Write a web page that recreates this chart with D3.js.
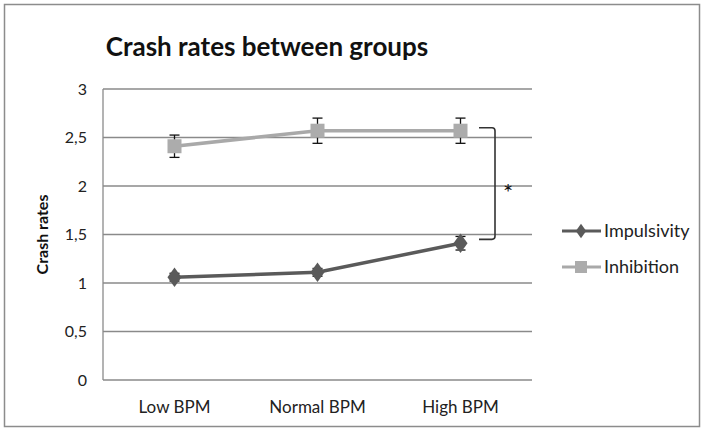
<!DOCTYPE html>
<html>
<head>
<meta charset="utf-8">
<script src="https://cdn.jsdelivr.net/npm/d3@7"></script>
<style>
  body { margin: 0; background: #fff; }
  text { font-family: Lato, "Open Sans", sans-serif; }
</style>
</head>
<body>
<svg width="703" height="431"></svg>
<script>
const categories = ['Low BPM', 'Normal BPM', 'High BPM'];
const impulsivity = [1.06, 1.11, 1.41];
const impulsivityErr = [0.04, 0.04, 0.07];
const inhibition = [2.41, 2.57, 2.57];
const inhibitionErr = [0.115, 0.13, 0.13];
const yTicks = [0, 0.5, 1, 1.5, 2, 2.5, 3];

const svg = d3.select('svg');
const margin = { left: 103, right: 532, top: 89, bottom: 380 };

svg.append('rect')
    .attr('x', 4.5).attr('y', 4.5)
    .attr('width', 695).attr('height', 422)
    .attr('fill', 'none').attr('stroke', '#8c8c8c').attr('stroke-width', 1.5);

const x = d3.scaleBand().domain(categories).range([margin.left, margin.right]);
const y = d3.scaleLinear().domain([0, 3]).range([margin.bottom, margin.top]);
const cx = d => x(d) + x.bandwidth() / 2;

// gridlines
svg.append('g')
    .selectAll('line')
    .data(yTicks)
    .enter().append('line')
    .attr('x1', margin.left).attr('x2', margin.right)
    .attr('y1', d => y(d)).attr('y2', d => y(d))
    .attr('stroke', '#8a8a8a').attr('stroke-width', 1.3);

// y axis line
svg.append('line')
    .attr('x1', margin.left).attr('x2', margin.left)
    .attr('y1', y(3)).attr('y2', y(0))
    .attr('stroke', '#8a8a8a').attr('stroke-width', 1.3);

const yAxis = d3.axisLeft(y).tickValues(yTicks)
    .tickFormat(d => String(d).replace('.', ','))
    .tickSize(0).tickPadding(16);
svg.append('g')
    .attr('transform', `translate(${margin.left},0)`)
    .call(yAxis)
    .call(g => g.select('.domain').remove())
    .selectAll('text')
    .attr('font-size', 16).attr('fill', '#222')
    .style('font-family', 'Lato, sans-serif');

const xAxis = d3.axisBottom(x).tickSize(0).tickPadding(21);
svg.append('g')
    .attr('transform', `translate(0,${margin.bottom})`)
    .call(xAxis)
    .call(g => g.select('.domain').remove())
    .selectAll('text')
    .attr('font-size', 17).attr('fill', '#222')
    .style('font-family', 'Lato, sans-serif');

// title
svg.append('text')
    .attr('x', 267).attr('y', 56)
    .attr('text-anchor', 'middle')
    .attr('font-size', 26).attr('font-weight', 'bold')
    .attr('fill', '#111')
    .text('Crash rates between groups');

// y axis title
svg.append('text')
    .attr('transform', `translate(48,${y(1.5)}) rotate(-90)`)
    .attr('text-anchor', 'middle')
    .attr('font-size', 16).attr('font-weight', 'bold')
    .attr('fill', '#111')
    .text('Crash rates');

const line = d3.line().x((d, i) => cx(categories[i])).y(d => y(d));

function drawErrors(vals, errs) {
    const g = svg.append('g').attr('stroke', '#111').attr('stroke-width', 1.3);
    vals.forEach((v, i) => {
        const px = cx(categories[i]);
        g.append('line').attr('x1', px).attr('x2', px)
            .attr('y1', y(v + errs[i])).attr('y2', y(v - errs[i]));
        [v + errs[i], v - errs[i]].forEach(e => {
            g.append('line').attr('x1', px - 5).attr('x2', px + 5)
                .attr('y1', y(e)).attr('y2', y(e));
        });
    });
}

// inhibition
drawErrors(inhibition, inhibitionErr);
svg.append('path').datum(inhibition)
    .attr('d', line).attr('fill', 'none')
    .attr('stroke', '#a9a9a9').attr('stroke-width', 3.5);
svg.append('g').selectAll('rect')
    .data(inhibition)
    .enter().append('rect')
    .attr('x', (d, i) => cx(categories[i]) - 7)
    .attr('y', d => y(d) - 7)
    .attr('width', 14).attr('height', 14)
    .attr('fill', '#acacac');

// impulsivity
drawErrors(impulsivity, impulsivityErr);
svg.append('path').datum(impulsivity)
    .attr('d', line).attr('fill', 'none')
    .attr('stroke', '#5a5a5a').attr('stroke-width', 3.5);
const diamond = d3.symbol().type(d3.symbolDiamond).size(110);
svg.append('g').selectAll('path')
    .data(impulsivity)
    .enter().append('path')
    .attr('d', diamond)
    .attr('transform', (d, i) => `translate(${cx(categories[i])},${y(d)}) scale(1.25,1)`)
    .attr('fill', '#5a5a5a');

// significance bracket
const bx0 = 479, bx1 = 495;
svg.append('path')
    .attr('d', `M${bx0},${y(2.6)} H${bx1 - 3} Q${bx1},${y(2.6)} ${bx1},${y(2.6) + 3} V${y(1.45) - 3} Q${bx1},${y(1.45)} ${bx1 - 3},${y(1.45)} H${bx0}`)
    .attr('fill', 'none').attr('stroke', '#333').attr('stroke-width', 1.6);
svg.append('text')
    .attr('x', 508).attr('y', 201)
    .attr('text-anchor', 'middle')
    .attr('font-size', 24).attr('fill', '#111')
    .text('*');

// legend
const legend = [
    { name: 'Impulsivity', color: '#5a5a5a', shape: 'diamond', y: 231 },
    { name: 'Inhibition', color: '#a9a9a9', shape: 'square', y: 267 }
];
legend.forEach(l => {
    const g = svg.append('g');
    g.append('line').attr('x1', 562).attr('x2', 601)
        .attr('y1', l.y).attr('y2', l.y)
        .attr('stroke', l.color).attr('stroke-width', 3);
    if (l.shape === 'diamond') {
        g.append('path').attr('d', d3.symbol().type(d3.symbolDiamond).size(60))
            .attr('transform', `translate(581,${l.y}) scale(1.25,1)`)
            .attr('fill', l.color);
    } else {
        g.append('rect').attr('x', 575).attr('y', l.y - 6)
            .attr('width', 12).attr('height', 12).attr('fill', '#acacac');
    }
    g.append('text').attr('x', 604).attr('y', l.y + 6)
        .attr('font-size', 18).attr('fill', '#222')
        .text(l.name);
});
</script>
</body>
</html>
